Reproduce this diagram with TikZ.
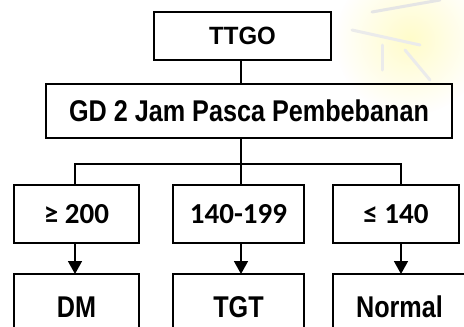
\documentclass[tikz,border=0pt]{standalone}
\usepackage{fontspec}
\usetikzlibrary{arrows.meta,fadings}
\newfontfamily\narrowbold[FakeStretch=0.84]{Liberation Sans}
\newfontfamily\titlebold[FakeStretch=0.96]{Liberation Sans}
\newfontfamily\rangefont{Carlito}
\tikzfading[name=softblob, inner color=transparent!0, outer color=transparent!100]
\begin{document}
\begin{tikzpicture}[x=1pt, y=-1pt,
  box/.style={draw=black, line width=1.9pt, inner sep=0pt, align=center},
  wire/.style={draw=black, line width=1.6pt},
  arr/.style={wire, -{Triangle[width=14pt,length=13pt]}},
  topfont/.style={font=\titlebold\bfseries\fontsize{25}{25}\selectfont},
  mainfont/.style={font=\narrowbold\bfseries\fontsize{30}{30}\selectfont},
  rangetxt/.style={font=\rangefont\bfseries\fontsize{29}{29}\selectfont},
]
\useasboundingbox (0,0) rectangle (464,327);
\clip (0,0) rectangle (464,327);
\fill[white] (0,0) rectangle (464,327);
% faint watermark in the upper right corner
\fill[yellow!35, path fading=softblob, opacity=0.6] (410,40) circle (75);
\draw[black!10, line width=3pt, line cap=round] (372,12) -- (440,0);
\draw[black!8, line width=3pt, line cap=round] (352,30) -- (420,45);
\draw[black!8, line width=3pt, line cap=round] (382,45) -- (382,70);
\draw[black!8, line width=3pt, line cap=round] (405,50) -- (430,80);

% boxes
\node[box, topfont, minimum width=177pt, minimum height=48pt] (ttgo) at (242.5,36) {TTGO};
\node[box, mainfont, minimum width=406pt, minimum height=54pt] (gd) at (249,111) {GD 2 Jam Pasca Pembebanan};

\node[box, rangetxt, minimum width=125pt, minimum height=58pt] (hi) at (76.5,214) {≥ 200};
\node[box, rangetxt, minimum width=131pt, minimum height=58pt] (mid) at (238.5,214) {140-199};
\node[box, rangetxt, minimum width=126pt, minimum height=58pt] (lo) at (396,214) {≤ 140};

\node[box, mainfont, minimum width=125pt, minimum height=66pt] (dm) at (76.5,307) {DM};
\node[box, mainfont, minimum width=131pt, minimum height=66pt] (tgt) at (238.5,307) {TGT};
\node[box, mainfont, minimum width=133pt, minimum height=66pt] (normal) at (399.5,307) {Normal};

% connectors
\coordinate (split) at (241,164);
\draw[wire] (ttgo.south -| split) -- (gd.north -| split);
\draw[wire] (gd.south -| split) -- (split);
\draw[wire] (75,185) -- (75,164) -- (401,164) -- (401,185);
\draw[wire] (split) -- (mid.north -| split);

\draw[arr] (75,243) -- (75,274);
\draw[arr] (241,243) -- (241,274);
\draw[arr] (401,243) -- (401,274);
\end{tikzpicture}
\end{document}
